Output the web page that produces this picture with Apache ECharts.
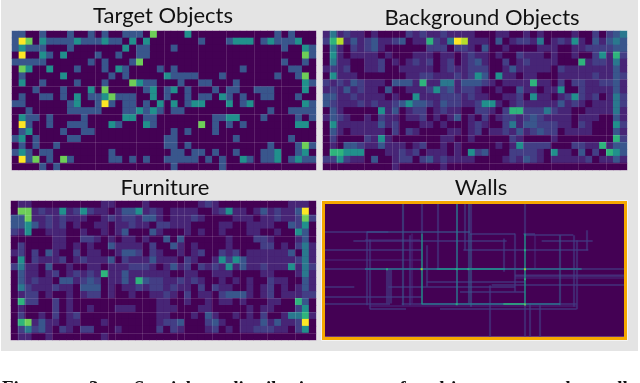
<!DOCTYPE html>
<html>
<head>
<meta charset="utf-8">
<script src="https://cdn.jsdelivr.net/npm/echarts@6/dist/echarts.min.js"></script>
<style>
html, body { margin: 0; padding: 0; background: #fff; }
#chart { width: 640px; height: 383px; }
</style>
</head>
<body>
<div id="chart"></div>
<script>
// cell levels 0-9, 44 columns x 20 rows, spaces only there to help counting
var targetRows = [
    "3300 3000 3003 0300 3330 7000 0500 0000 0000 0030 3000",
    "3970 5333 3533 3533 0505 0000 0003 0003 5550 3533 3500",
    "3533 3000 3000 0000 5033 0003 0000 0000 0000 0003 0053",
    "0900 5305 0000 3003 0033 0000 0000 0000 0000 0000 0073",
    "3333 3000 0003 0300 0370 0000 0000 0000 0000 0003 0030",
    "0750 0500 0300 0305 3000 0303 0000 0000 0300 0000 3300",
    "0300 0005 0000 0030 3000 0053 3330 0030 0000 0030 0370",
    "0500 3000 0300 0300 0753 3000 3003 3000 3000 0000 0053",
    "0003 0003 0005 0700 0003 5035 0300 0303 3003 3300 0050",
    "0300 3303 0503 3573 3300 5030 0303 3053 0300 3300 0300",
    "3300 0000 3500 3930 3303 0505 0355 0005 0350 0000 0053",
    "0030 0000 3333 3000 3353 5303 3000 0000 0000 0300 3333",
    "0533 0300 0030 0000 5503 3000 0000 0335 5000 3000 0303",
    "0930 0300 3330 0053 0005 3000 0007 0303 0300 0000 0550",
    "0350 0003 0033 0000 0000 0003 0300 0300 0000 0000 0000",
    "3503 0000 3300 0000 0000 0033 0000 0000 3000 0000 3000",
    "0303 0030 0000 0000 0000 0033 0300 0000 0000 0300 0373",
    "3530 3300 0000 0030 0000 0003 3033 0300 3000 3350 0350",
    "0937 0307 3000 0033 0303 0033 3330 3030 0530 3350 3533",
    "0000 3030 0000 0000 0000 0003 0000 0030 0000 0000 0000"
];
var backgroundRows = [
    "1412 1101 0000 2121 1211 1100 0110 0101 0000 1002 0234",
    "2681 3123 1123 0116 2149 8111 0301 2214 0121 5103 1343",
    "0410 2123 1000 0002 2202 2103 0010 0001 1100 1122 2233",
    "0510 1111 0100 0111 0110 1211 0100 2111 0100 1002 5162",
    "0411 0011 2010 1212 0120 1231 0020 1211 1100 0612 2141",
    "1212 0011 2001 1111 0121 1222 0013 1111 1021 1111 1131",
    "0511 1000 0000 1122 1112 1253 0511 0110 0011 1112 1132",
    "2121 3211 1033 3161 1441 3332 1011 1161 1020 2211 2231",
    "1213 1211 0300 1112 5231 2210 0100 3110 1150 0211 1131",
    "3311 2111 1010 0511 1222 1211 0011 2051 1012 5212 0142",
    "3211 1212 1123 5332 1322 1125 5101 2111 1131 2101 1142",
    "0310 0000 5130 1220 1211 0022 1026 6222 4211 0011 1141",
    "1321 0010 2110 1120 1013 0102 0122 1232 1111 0111 0031",
    "0511 1111 3120 0011 0100 0121 0024 1332 2211 0210 0052",
    "0310 1111 1020 2100 0011 0120 1121 3123 2201 1110 0031",
    "0200 0021 5100 0000 0110 0100 0002 1000 0100 0000 0062",
    "0103 3211 3111 0120 0101 0000 0101 5222 2000 2211 6133",
    "0665 5500 0112 1201 1101 0523 0002 2221 0511 0302 0653",
    "2252 1103 0012 2023 1211 1100 0012 1321 0111 1120 1131",
    "0000 0000 0010 0000 0100 0000 0000 0000 0000 0000 0000"
];
var furnitureRows = [
    "0110 0000 0000 0110 0001 0000 0001 2100 0000 0000 1110",
    "0771 2115 1252 1101 3351 2101 1110 0125 1101 3121 1390",
    "3371 1212 1110 0121 2213 3101 1121 0000 1110 1121 1272",
    "3353 1212 0100 1101 1211 0221 1100 0011 0011 1100 3250",
    "2150 0111 0010 0101 3000 3100 0101 0010 0011 0010 0530",
    "0000 0011 0022 1010 1101 0030 3000 0001 0002 2100 0130",
    "0200 0011 0101 0031 1110 2003 1010 0001 0000 2201 0241",
    "1202 0310 0201 1001 3320 2100 1012 0021 2011 1111 3041",
    "0502 1112 0121 1130 2111 3111 0210 0152 5311 1111 1241",
    "2411 0300 1001 1011 1222 1013 1202 1215 1311 2111 5142",
    "0311 0120 1212 1611 3111 1110 0110 0111 0000 1100 0141",
    "0312 1103 3123 2011 3163 2211 2121 0010 1010 0211 0031",
    "0421 1121 1033 3010 1121 2212 1102 0211 0010 1201 0131",
    "0122 0100 1012 2010 0100 1121 0201 1023 3310 1201 1122",
    "0622 0020 1000 0000 0000 0110 0100 1011 0100 0110 0630",
    "0100 0020 1001 0001 1100 0111 0001 1000 0010 1100 0250",
    "0200 1020 1200 0000 0000 0110 0010 3100 1010 2001 4461",
    "0671 3110 1100 0100 0000 0122 3000 2310 0111 3131 1290",
    "0242 3102 1022 0001 0000 0202 1000 1201 0112 2211 0250",
    "0110 0100 0000 0100 0000 0000 0000 0000 0000 0000 0000"
];

// the thin light lines left in the heatmaps, by column / row boundary
var targetLinesX = [4, 12, 18, 22, 27, 31, 35, 39];
var targetLinesY = [8, 12, 16, 19];
var backgroundLinesX = [1, 2, 6, 10, 11, 15, 19, 20, 24, 29, 33, 37, 41];
var backgroundLinesY = [3, 7, 12, 15, 16, 19];
var furnitureLinesX = [1, 2, 6, 10, 14, 15, 19, 24, 25, 29, 33, 37, 41];
var furnitureLinesY = [2, 5, 9, 14, 16, 19];

// walls: [position, from, to, level] on a 900 x 400 floor plan
var wallsH = [
    [85, 0, 190, 2], [85, 125, 435, 3], [90, 435, 570, 2], [90, 595, 630, 2], [93, 597, 745, 2],
    [108, 120, 285, 1], [112, 85, 545, 2], [112, 650, 803, 2], [140, 0, 290, 2], [140, 415, 790, 2],
    [168, 0, 290, 1], [197, 0, 900, 2], [197, 120, 770, 4], [197, 335, 540, 5], [213, 570, 900, 1],
    [218, 570, 900, 2], [224, 570, 900, 1], [235, 305, 600, 2], [243, 500, 900, 2], [251, 0, 88, 2],
    [251, 190, 570, 2], [265, 405, 600, 2], [281, 0, 290, 2], [301, 0, 195, 2], [301, 230, 755, 2],
    [302, 290, 705, 4], [302, 535, 600, 6], [307, 135, 755, 1], [317, 135, 243, 2], [317, 345, 755, 2]
];
var wallsV = [
    [125, 85, 305, 2], [135, 108, 317, 2], [192, 197, 300, 2], [186, 197, 300, 2], [198, 197, 300, 2],
    [232, 0, 305, 3], [253, 95, 305, 2], [260, 90, 300, 1], [290, 0, 90, 2], [290, 90, 302, 5],
    [305, 125, 250, 2], [337, 0, 197, 2], [395, 0, 305, 4], [418, 0, 140, 2], [430, 0, 300, 3],
    [437, 0, 90, 2], [437, 90, 310, 3], [495, 245, 400, 2], [535, 105, 205, 2], [570, 90, 265, 2],
    [600, 0, 90, 2], [600, 90, 303, 5], [600, 303, 400, 2], [613, 300, 400, 2], [630, 95, 197, 1],
    [643, 305, 400, 2], [705, 95, 305, 3], [745, 95, 310, 2], [755, 110, 317, 2], [785, 80, 140, 2]
];
var wallJoints = [[290, 197, 8], [600, 197, 8], [600, 303, 7], [600, 140, 6], [600, 227, 6], [430, 197, 6], [395, 197, 6], [186, 197, 6], [395, 302, 6]];

var panelTitles = ["Target Objects", "Background Objects", "Furniture", "Walls"];
var captionWords = [["Figure", 2], ["3:", 89], ["Spatial", 134], ["distribution", 228], ["of", 390], ["objects", 430], ["and", 540], ["walls", 594]];
var palette = ["#440154", "#472576", "#433e85", "#39568c", "#2a788e", "#21908c", "#2fb47c", "#6ece58", "#b5de2b", "#fde725"];

function rowsToCells(rows) {
    var cells = [];
    rows.forEach(function (row, r) {
        row.replace(/ /g, "").split("").forEach(function (v, c) {
            cells.push([c, r, +v]);
        });
    });
    return cells;
}

function indexList(n) {
    var list = [];
    for (var i = 0; i < n; i++) list.push(i);
    return list;
}

function heatAxis(n, lines, idx, inverse) {
    return {
        type: "category",
        gridIndex: idx,
        data: indexList(n),
        inverse: !!inverse,
        z: 5,
        axisLine: { show: false },
        axisTick: { show: false },
        axisLabel: { show: false },
        splitArea: { show: false },
        splitLine: {
            show: true,
            interval: function (i) { return lines.indexOf(i) >= 0; },
            lineStyle: { color: "rgba(255,255,255,0.13)", width: 1 }
        }
    };
}

function wallLines() {
    var out = [];
    wallsH.forEach(function (w) {
        out.push({ level: w[3], coords: [[w[1], w[0]], [w[2], w[0]]] });
    });
    wallsV.forEach(function (w) {
        out.push({ level: w[3], coords: [[w[0], w[1]], [w[0], w[2]]] });
    });
    // faint ones first so the bright ones stay on top
    out.sort(function (a, b) { return a.level - b.level; });
    return out.map(function (w) {
        var bright = w.level > 3;
        return {
            coords: w.coords,
            lineStyle: { color: palette[w.level], width: bright ? 1.6 : 2.2, opacity: bright ? 0.9 : 0.6 }
        };
    });
}

var grids = [
    { left: 12, top: 31, width: 304, height: 139 },
    { left: 323, top: 31, width: 304, height: 139 },
    { left: 11, top: 201, width: 305, height: 139 },
    { left: 325, top: 203.5, width: 300, height: 133.3 }
];
grids.forEach(function (g, i) {
    g.show = true;
    g.backgroundColor = "#440154";
    g.borderWidth = i < 3 ? 1 : 0;
    g.borderColor = i < 3 ? "#f4f4f4" : "transparent";
});

var titleX = [163, 482, 165, 481];
var titleY = [5, 7, 177, 177];

var caption = captionWords.map(function (w) {
    return {
        type: "text",
        x: w[1],
        y: 380,
        z: 10,
        style: { text: w[0], fontFamily: "Liberation Serif", fontWeight: "bold", fontSize: 19, fill: "#111" }
    };
});

var option = {
    animation: false,
    backgroundColor: "#fff",
    title: panelTitles.map(function (t, i) {
        return {
            text: t,
            left: titleX[i],
            top: titleY[i],
            textAlign: "center",
            padding: 0,
            textStyle: { fontFamily: "Lato", fontWeight: "normal", fontSize: 22, color: "#111" }
        };
    }),
    grid: grids,
    xAxis: [
        heatAxis(44, targetLinesX, 0),
        heatAxis(44, backgroundLinesX, 1),
        heatAxis(44, furnitureLinesX, 2),
        { type: "value", gridIndex: 3, min: 0, max: 900, show: false }
    ],
    yAxis: [
        heatAxis(20, targetLinesY, 0, true),
        heatAxis(20, backgroundLinesY, 1, true),
        heatAxis(20, furnitureLinesY, 2, true),
        { type: "value", gridIndex: 3, min: 0, max: 400, inverse: true, show: false }
    ],
    visualMap: {
        show: false,
        seriesIndex: [0, 1, 2],
        dimension: 2,
        min: 0,
        max: 9,
        inRange: { color: palette }
    },
    series: [
        { type: "heatmap", xAxisIndex: 0, yAxisIndex: 0, data: rowsToCells(targetRows), progressive: 0 },
        { type: "heatmap", xAxisIndex: 1, yAxisIndex: 1, data: rowsToCells(backgroundRows), progressive: 0 },
        { type: "heatmap", xAxisIndex: 2, yAxisIndex: 2, data: rowsToCells(furnitureRows), progressive: 0 },
        {
            type: "lines",
            coordinateSystem: "cartesian2d",
            xAxisIndex: 3,
            yAxisIndex: 3,
            polyline: false,
            silent: true,
            data: wallLines()
        },
        {
            type: "scatter",
            xAxisIndex: 3,
            yAxisIndex: 3,
            symbol: "rect",
            symbolSize: 2,
            silent: true,
            z: 4,
            data: wallJoints.map(function (p) { return { value: [p[0], p[1]], itemStyle: { color: palette[p[2]] } }; })
        }
    ],
    graphic: [
        { type: "rect", z: -10, shape: { x: 1, y: 0, width: 637, height: 351 }, style: { fill: "#e4e4e4" } },
        { type: "rect", z: 10, shape: { x: 321.5, y: 200.5, width: 306, height: 140 }, style: { fill: "none", stroke: "#f4f4f4", lineWidth: 1 } },
        { type: "rect", z: 10, shape: { x: 323.5, y: 202.5, width: 302, height: 136 }, style: { fill: "none", stroke: "#f5a800", lineWidth: 3 } }
    ].concat(caption)
};

var myChart = echarts.init(document.getElementById("chart"), null, { renderer: "canvas" });
myChart.setOption(option);
</script>
</body>
</html>
